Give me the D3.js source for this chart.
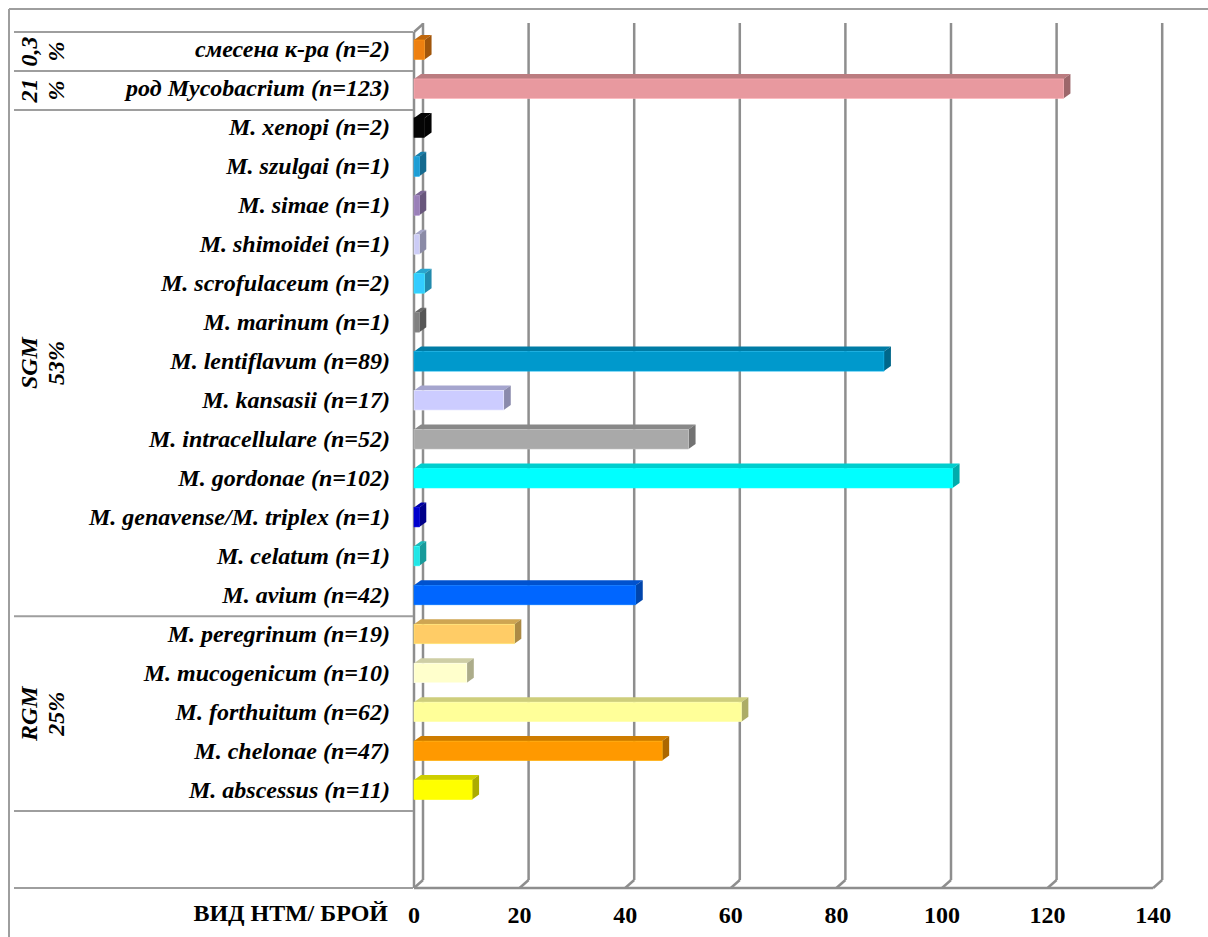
<!DOCTYPE html>
<html>
<head>
<meta charset="utf-8">
<script src="https://cdn.jsdelivr.net/npm/d3@7"></script>
<style>
  html, body { margin: 0; padding: 0; background: #fff; }
  svg { display: block; }
  text { font-family: "Liberation Serif", "Times New Roman", "DejaVu Serif", serif; font-weight: bold; fill: #000; }
</style>
</head>
<body>
<svg id="chart" width="1208" height="937"></svg>
<script>
// Species of non-tuberculous mycobacteria and number of isolates
const categories = [
  "смесена к-ра (n=2)",
  "род Mycobacrium (n=123)",
  "M. xenopi (n=2)",
  "M. szulgai (n=1)",
  "M. simae (n=1)",
  "M. shimoidei (n=1)",
  "M. scrofulaceum (n=2)",
  "M. marinum (n=1)",
  "M. lentiflavum (n=89)",
  "M. kansasii (n=17)",
  "M. intracellulare (n=52)",
  "M. gordonae (n=102)",
  "M. genavense/M. triplex (n=1)",
  "M. celatum (n=1)",
  "M. avium (n=42)",
  "M. peregrinum (n=19)",
  "M. mucogenicum (n=10)",
  "M. forthuitum (n=62)",
  "M. chelonae (n=47)",
  "M. abscessus (n=11)"
];
const counts = [2, 123, 2, 1, 1, 1, 2, 1, 89, 17, 52, 102, 1, 1, 42, 19, 10, 62, 47, 11];
const barColors = [
  "#EE8010", "#E8999F", "#050505", "#1E9DD4", "#9A80B8", "#CCCCF6", "#33CCFF",
  "#808080", "#0099CC", "#CCCCFF", "#A9A9A9", "#00FFFF", "#0000CC", "#22E6E6",
  "#0066FF", "#FFCC66", "#FFFFCC", "#FFFF99", "#FF9900", "#FFFF00"
];

// Group captions on the left (rotated), each spanning a range of rows
const groupLines = [["0,3", "%"], ["21", "%"], ["SGM", "53%"], ["RGM", "25%"]];
const groupFirst = [0, 1, 2, 15];
const groupLast  = [0, 1, 14, 19];

const xTicks = [0, 20, 40, 60, 80, 100, 120, 140];
const axisTitle = "ВИД НТМ/ БРОЙ";

const svg = d3.select("#chart");

// Layout
const frontX0 = 414, unit = 5.28;
const wallDX = 9, wallDY = -8;      // depth of the 3D box
const barDX = 7, barDY = -5;        // depth of each bar
const rowsTop = 32, rowsBottom = 811, floorY = 888;
const barH = 19.5;
const fontSize = "24px";

const x = d3.scaleLinear().domain([0, 140]).range([frontX0, frontX0 + 140 * unit]);
const y = d3.scaleBand().domain(d3.range(categories.length)).range([rowsTop, rowsBottom]).padding(0);

const grid = "#8e8e8e", tableLine = "#9e9e9e";

// Outer frame (left and top edges)
svg.append("line").attr("x1", 9).attr("y1", 9).attr("x2", 1208).attr("y2", 9)
  .attr("stroke", tableLine).attr("stroke-width", 2);
svg.append("line").attr("x1", 9).attr("y1", 9).attr("x2", 9).attr("y2", 937)
  .attr("stroke", tableLine).attr("stroke-width", 2);

// Back-wall gridlines with floor ticks
const g = svg.append("g");
xTicks.forEach(t => {
  const bx = x(t) + wallDX;
  g.append("line").attr("x1", bx).attr("y1", rowsTop + wallDY - 1).attr("x2", bx).attr("y2", floorY + wallDY)
    .attr("stroke", grid).attr("stroke-width", 2.5);
  g.append("line").attr("x1", bx).attr("y1", floorY + wallDY).attr("x2", x(t)).attr("y2", floorY)
    .attr("stroke", grid).attr("stroke-width", 2.5);
});
// Front floor edge
g.append("line").attr("x1", x(0)).attr("y1", floorY).attr("x2", x(140)).attr("y2", floorY)
  .attr("stroke", grid).attr("stroke-width", 2.5);
// Side wall (front-left edge and its top)
g.append("line").attr("x1", x(0)).attr("y1", rowsTop).attr("x2", x(0)).attr("y2", floorY)
  .attr("stroke", grid).attr("stroke-width", 2.5);
g.append("line").attr("x1", x(0)).attr("y1", rowsTop).attr("x2", x(0) + wallDX).attr("y2", rowsTop + wallDY)
  .attr("stroke", grid).attr("stroke-width", 2.5);

// Table of category rows
const rowLines = [rowsTop, y(1), y(2), y(15), rowsBottom, floorY];
svg.append("g").selectAll("line").data(rowLines).join("line")
  .attr("x1", 14).attr("x2", x(0) - 1)
  .attr("y1", d => d).attr("y2", d => d)
  .attr("stroke", tableLine).attr("stroke-width", 2);

// 3D bars
const bars = svg.append("g").selectAll("g").data(counts).join("g");
bars.each(function(v, i) {
  const sel = d3.select(this);
  const c = d3.color(barColors[i]);
  const x0 = x(0), x1 = x(v);
  const y0 = y(i) + 8, y1 = y0 + barH;
  const top = c.darker(0.6), side = c.darker(1.1);
  sel.append("polygon")
    .attr("points", [[x0, y0], [x0 + barDX, y0 + barDY], [x1 + barDX, y0 + barDY], [x1, y0]].join(" "))
    .attr("fill", top);
  sel.append("polygon")
    .attr("points", [[x1, y0], [x1 + barDX, y0 + barDY], [x1 + barDX, y1 + barDY], [x1, y1]].join(" "))
    .attr("fill", side);
  sel.append("rect")
    .attr("x", x0).attr("y", y0).attr("width", x1 - x0).attr("height", barH)
    .attr("fill", c).attr("stroke", c.brighter(0.4)).attr("stroke-width", 0.6);
});

// Category labels
svg.append("g").selectAll("text").data(categories).join("text")
  .attr("x", 390)
  .attr("y", (d, i) => y(i) + y.bandwidth() / 2 - 2)
  .attr("text-anchor", "end")
  .attr("dominant-baseline", "central")
  .style("font-style", "italic")
  .style("font-size", fontSize)
  .text(d => d);

// Rotated group captions
groupLines.forEach((lines, k) => {
  const cy = (y(groupFirst[k]) + y(groupLast[k]) + y.bandwidth()) / 2;
  lines.forEach((s, j) => {
    const bx = 37 + j * 27;
    svg.append("text")
      .attr("transform", `translate(${bx},${cy}) rotate(-90)`)
      .attr("text-anchor", "middle")
      .style("font-style", "italic")
      .style("font-size", fontSize)
      .text(s);
  });
});

// Value axis labels
svg.append("g").selectAll("text").data(xTicks).join("text")
  .attr("x", d => x(d))
  .attr("y", 923)
  .attr("text-anchor", "middle")
  .style("font-size", fontSize)
  .text(d => d);

svg.append("text")
  .attr("x", 388).attr("y", 921)
  .attr("text-anchor", "end")
  .style("font-size", fontSize)
  .text(axisTitle);
</script>
</body>
</html>
